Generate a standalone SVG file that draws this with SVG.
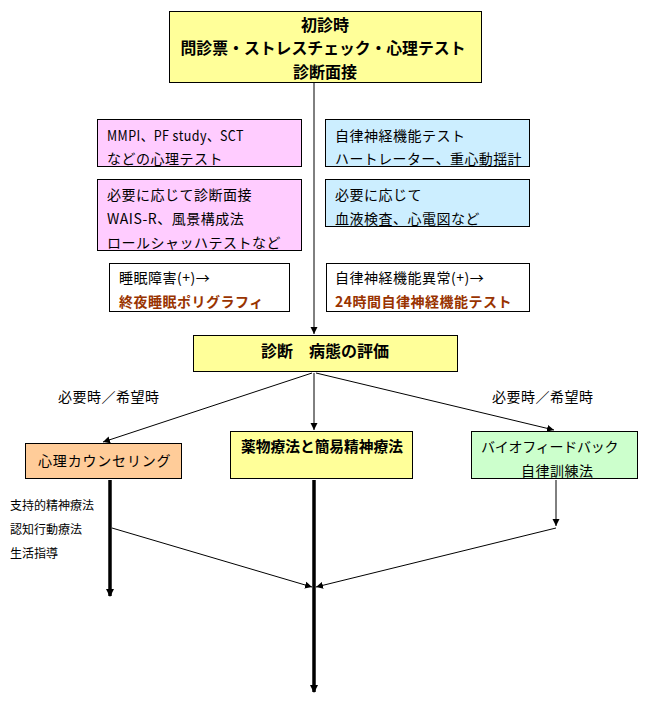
<svg xmlns="http://www.w3.org/2000/svg" width="650" height="708" viewBox="0 0 650 708">
<style>
text{font-family:"Noto Sans CJK JP","Noto Sans",sans-serif;fill:#000}
.t14{font-size:14px;letter-spacing:0.5px}
.t12{font-size:12px}
.b16{font-size:16px;font-weight:bold}
.b15{font-size:15px;font-weight:bold}
.br{font-size:14px;font-weight:bold;fill:#993300;letter-spacing:0.5px}
.box{stroke:#000;stroke-width:1}
.thin{stroke:#000;stroke-width:1;fill:none}
.thick{stroke:#000;stroke-width:3.5;fill:none}
</style>
<defs>
<marker id="a" markerWidth="8" markerHeight="8" refX="7" refY="4" orient="auto" markerUnits="userSpaceOnUse">
<path d="M0,0.5 L7,4 L0,7.5 Z" fill="#000"/>
</marker>
<marker id="ab" markerWidth="8" markerHeight="10" refX="7" refY="5" orient="auto" markerUnits="userSpaceOnUse">
<path d="M0,1 L8,5 L0,9 Z" fill="#000"/>
</marker>
</defs>
<rect width="650" height="708" fill="#fff"/>

<g id="connectors">
<line class="thin" x1="314" y1="83" x2="314" y2="334" marker-end="url(#a)"/>
<line class="thin" x1="312" y1="373" x2="103" y2="442" marker-end="url(#a)"/>
<line class="thin" x1="314" y1="373" x2="314" y2="430" marker-end="url(#a)"/>
<line class="thin" x1="316" y1="373" x2="554" y2="430" marker-end="url(#a)"/>
<line class="thick" x1="110" y1="480" x2="110" y2="596" marker-end="url(#ab)"/>
<line class="thick" x1="314" y1="480" x2="314" y2="692" marker-end="url(#ab)"/>
<line class="thin" x1="556" y1="480" x2="556" y2="526" marker-end="url(#a)"/>
<line class="thin" x1="112" y1="528" x2="312" y2="587" marker-end="url(#a)"/>
<line class="thin" x1="556" y1="528" x2="316" y2="587" marker-end="url(#a)"/>
</g>

<g id="n-top">
<rect class="box" x="169.5" y="11.5" width="312" height="71" fill="#ffff99"/>
<text class="b16" x="325" y="31" text-anchor="middle">初診時</text>
<text class="b16" x="323" y="54" text-anchor="middle" textLength="285" lengthAdjust="spacingAndGlyphs">問診票・ストレスチェック・心理テスト</text>
<text class="b16" x="325" y="78" text-anchor="middle">診断面接</text>
</g>

<g id="n-psy1">
<rect class="box" x="97.5" y="119.5" width="204" height="47" fill="#ffccff"/>
<text class="t14" x="107" y="141" textLength="137" lengthAdjust="spacingAndGlyphs">MMPI、PF study、SCT</text>
<text class="t14" x="107" y="164">などの心理テスト</text>
</g>

<g id="n-psy2">
<rect class="box" x="97.5" y="179.5" width="204" height="71" fill="#ffccff"/>
<text class="t14" x="107" y="200">必要に応じて診断面接</text>
<text class="t14" x="107" y="224">WAIS-R、風景構成法</text>
<text class="t14" x="107" y="248">ロールシャッハテストなど</text>
</g>

<g id="n-sleep">
<rect class="box" x="109.5" y="263.5" width="180" height="48" fill="#fff"/>
<text class="t14" x="119" y="283">睡眠障害(+)→</text>
<text class="br" x="119" y="307">終夜睡眠ポリグラフィ</text>
</g>

<g id="n-auto1">
<rect class="box" x="325.5" y="119.5" width="204" height="47" fill="#cceeff"/>
<text class="t14" x="335" y="141">自律神経機能テスト</text>
<text class="t14" x="335" y="164" textLength="187" lengthAdjust="spacingAndGlyphs">ハートレーター、重心動揺計</text>
</g>

<g id="n-auto2">
<rect class="box" x="325.5" y="179.5" width="204" height="47" fill="#cceeff"/>
<text class="t14" x="335" y="200">必要に応じて</text>
<text class="t14" x="335" y="224">血液検査、心電図など</text>
</g>

<g id="n-auto3">
<rect class="box" x="326.5" y="263.5" width="203" height="48" fill="#fff"/>
<text class="t14" x="335" y="283">自律神経機能異常(+)→</text>
<text class="br" x="335" y="307">24時間自律神経機能テスト</text>
</g>

<g id="n-diag">
<rect class="box" x="193.5" y="335.5" width="264" height="36" fill="#ffff99"/>
<text class="b16" x="325" y="357" text-anchor="middle">診断　病態の評価</text>
</g>

<text class="t14" x="58" y="402">必要時／希望時</text>
<text class="t14" x="492" y="402">必要時／希望時</text>

<g id="n-counsel">
<rect class="box" x="25.5" y="443.5" width="156" height="35" fill="#ffcc99"/>
<text class="t14" x="38" y="466" textLength="133" lengthAdjust="spacing">心理カウンセリング</text>
</g>

<g id="n-med">
<rect class="box" x="230.5" y="431.5" width="182" height="47" fill="#ffff99"/>
<text class="b15" x="241" y="452" textLength="162" lengthAdjust="spacingAndGlyphs">薬物療法と簡易精神療法</text>
</g>

<g id="n-bio">
<rect class="box" x="471.5" y="431.5" width="166" height="47" fill="#ccffcc"/>
<text class="t14" x="481" y="452" textLength="138" lengthAdjust="spacing">バイオフィードバック</text>
<text class="t14" x="521" y="476">自律訓練法</text>
</g>

<text class="t12" x="10" y="510">支持的精神療法</text>
<text class="t12" x="10" y="534">認知行動療法</text>
<text class="t12" x="10" y="558">生活指導</text>
</svg>
